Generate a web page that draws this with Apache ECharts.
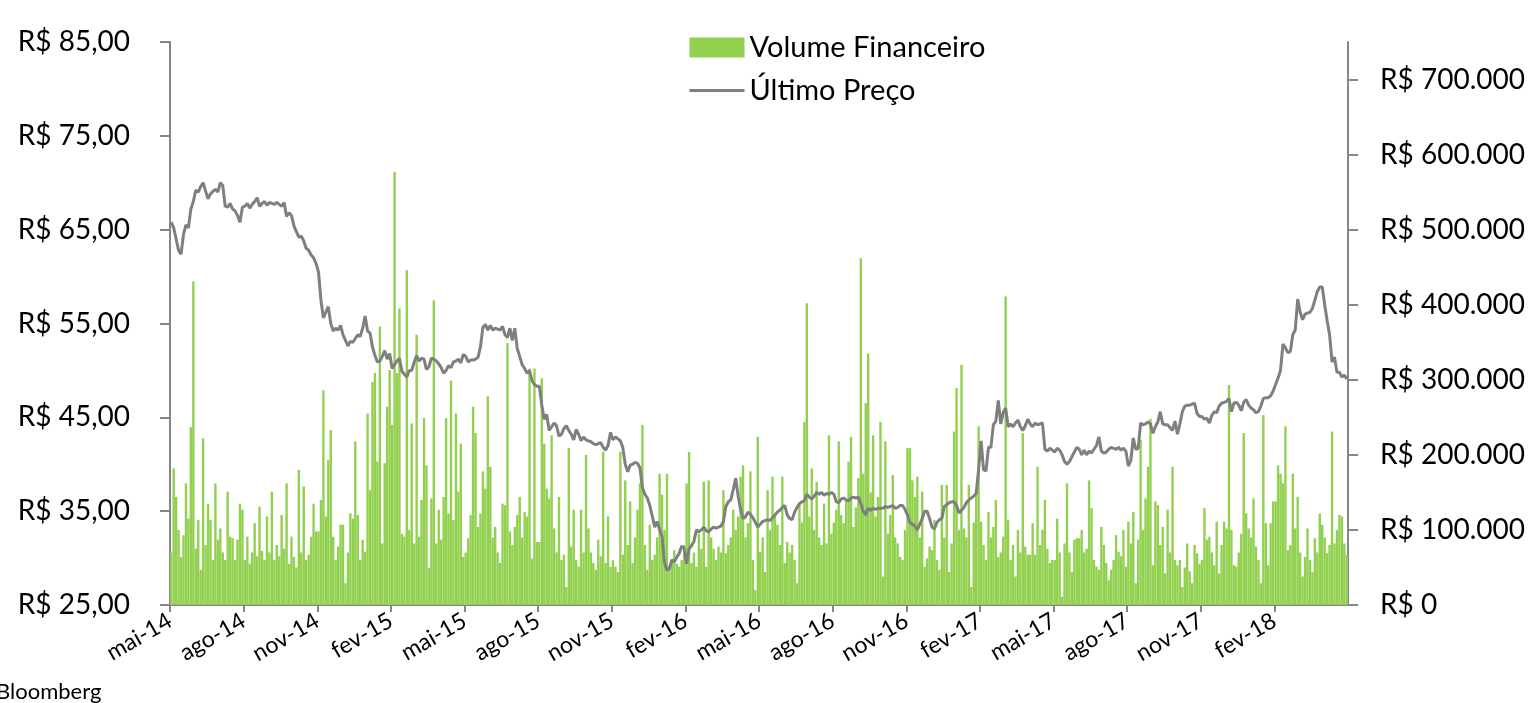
<!DOCTYPE html>
<html>
<head>
<meta charset="utf-8">
<script src="https://cdn.jsdelivr.net/npm/echarts@6/dist/echarts.min.js"></script>
<style>
  html, body { margin: 0; padding: 0; background: #fff; }
  #chart { width: 1528px; height: 703px; }
</style>
</head>
<body>
<div id="chart"></div>
<script>
// eixo x: meses a partir de mai-14, rótulos a cada 3 meses
var tickLabels = ['mai-14', 'ago-14', 'nov-14', 'fev-15', 'mai-15', 'ago-15', 'nov-15', 'fev-16',
  'mai-16', 'ago-16', 'nov-16', 'fev-17', 'mai-17', 'ago-17', 'nov-17', 'fev-18']
var pointsPerMonth = 10

// Volume Financeiro (em milhares de R$), 10 leituras por mês
var volume = [
  70, 182, 144, 100, 64, 93, 162, 115, 237, 431,
  75, 113, 47, 222, 80, 135, 113, 60, 162, 87,
  102, 70, 60, 151, 91, 89, 60, 87, 135, 127,
  60, 91, 55, 70, 109, 65, 131, 72, 60, 118,
  70, 151, 60, 80, 65, 120, 75, 162, 55, 91,
  64, 50, 180, 70, 158, 60, 67, 91, 135, 98,
  98, 140, 286, 118, 193, 233, 91, 60, 78, 107,
  107, 29, 70, 122, 115, 218, 120, 60, 87, 71,
  255, 153, 297, 309, 191, 371, 82, 189, 264, 313,
  240, 577, 309, 395, 95, 91, 446, 100, 242, 82,
  360, 91, 140, 249, 186, 49, 142, 406, 82, 127,
  87, 144, 249, 122, 299, 113, 255, 151, 215, 64,
  70, 89, 120, 264, 229, 104, 122, 178, 155, 278,
  184, 90, 104, 70, 56, 135, 133, 349, 98, 80,
  104, 120, 144, 90, 124, 118, 315, 62, 315, 84,
  84, 302, 215, 155, 142, 226, 102, 70, 144, 60,
  67, 24, 209, 78, 127, 60, 51, 127, 70, 200,
  102, 70, 56, 47, 87, 65, 204, 56, 118, 51,
  60, 51, 44, 204, 67, 166, 80, 138, 56, 90,
  127, 162, 240, 80, 47, 107, 60, 67, 90, 175,
  147, 100, 175, 51, 60, 73, 55, 51, 60, 80,
  162, 204, 56, 70, 51, 95, 75, 164, 51, 166,
  90, 75, 60, 78, 70, 153, 69, 80, 90, 127,
  100, 118, 171, 186, 90, 109, 178, 60, 20, 224,
  71, 90, 44, 153, 100, 171, 122, 107, 80, 171,
  56, 84, 70, 80, 60, 29, 135, 110, 244, 402,
  118, 182, 100, 164, 90, 80, 135, 82, 226, 95,
  110, 127, 218, 120, 109, 140, 191, 224, 104, 130,
  169, 462, 175, 269, 335, 150, 226, 118, 144, 244,
  38, 218, 95, 120, 173, 90, 82, 64, 60, 100,
  209, 209, 166, 144, 171, 90, 151, 51, 62, 78,
  73, 113, 60, 47, 160, 90, 160, 44, 82, 231,
  289, 100, 320, 102, 90, 160, 24, 110, 149, 238,
  111, 80, 60, 124, 90, 104, 140, 64, 70, 91,
  411, 113, 60, 80, 38, 100, 70, 229, 78, 67,
  67, 109, 67, 184, 80, 100, 140, 75, 56, 60,
  60, 115, 70, 11, 82, 162, 70, 44, 87, 89,
  89, 100, 70, 75, 166, 129, 60, 51, 47, 104,
  80, 56, 33, 47, 60, 93, 71, 65, 100, 51,
  111, 82, 124, 29, 87, 220, 100, 142, 184, 248,
  53, 138, 133, 80, 104, 42, 127, 70, 184, 60,
  53, 60, 24, 50, 82, 45, 29, 80, 69, 55,
  60, 129, 87, 91, 70, 53, 111, 42, 80, 111,
  102, 293, 100, 53, 51, 70, 95, 229, 122, 102,
  90, 142, 78, 60, 29, 253, 109, 53, 109, 138,
  138, 186, 175, 162, 238, 73, 80, 175, 102, 144,
  70, 38, 64, 102, 60, 44, 89, 70, 122, 107,
  90, 69, 80, 231, 82, 100, 120, 118, 82, 67
]

// Último Preço (R$), mesmas posições
var price = [
  65.8, 65.2, 64.0, 62.8, 62.4, 64.5, 65.5, 65.2, 67.2, 68.0,
  69.2, 69.0, 69.6, 70.0, 69.1, 68.3, 68.8, 69.1, 69.3, 69.0,
  70.0, 69.7, 67.5, 67.4, 67.8, 67.2, 67.0, 66.5, 65.8, 67.4,
  67.5, 67.8, 67.3, 67.7, 68.0, 68.4, 67.5, 67.8, 68.0, 67.6,
  67.9, 67.8, 67.7, 67.9, 67.7, 67.5, 67.9, 66.4, 66.8, 66.5,
  65.4, 64.8, 64.2, 64.3, 63.8, 63.0, 62.8, 62.3, 62.0, 61.4,
  60.5, 57.5, 55.6, 56.2, 56.8, 55.0, 54.2, 54.5, 54.3, 54.8,
  53.8, 53.2, 52.6, 53.1, 53.0, 53.4, 53.8, 53.6, 54.5, 55.8,
  54.2, 54.0, 52.5, 51.6, 50.9, 51.0, 51.5, 52.1, 51.2, 51.8,
  50.2, 50.6, 51.0, 51.3, 49.9, 49.6, 49.3, 50.0, 50.0, 50.9,
  51.6, 51.0, 51.3, 51.2, 50.1, 50.4, 51.3, 51.2, 51.0, 50.7,
  50.3, 49.7, 50.0, 50.5, 50.3, 50.9, 51.0, 51.2, 50.8, 51.7,
  51.5, 50.9, 51.1, 51.1, 51.2, 51.4, 52.5, 54.6, 54.9, 54.3,
  54.8, 54.3, 54.5, 54.4, 54.3, 54.7, 53.8, 53.5, 54.5, 53.2,
  54.5, 52.3, 51.5, 50.6, 50.2, 49.7, 50.0, 48.9, 48.5, 48.3,
  48.3, 46.3, 44.8, 45.3, 43.6, 44.0, 44.4, 44.1, 43.0, 43.2,
  43.8, 44.1, 43.6, 43.2, 42.6, 43.7, 43.2, 42.5, 42.9, 42.6,
  42.5, 42.4, 42.2, 42.1, 42.2, 42.3, 41.8, 41.5, 42.0, 43.4,
  42.6, 42.9, 42.7, 42.5, 41.8, 40.0, 39.2, 39.9, 40.0, 40.2,
  40.1, 39.6, 37.5, 36.8, 36.4, 35.6, 34.5, 33.3, 33.9, 33.0,
  32.3, 29.5, 28.7, 28.9, 29.8, 29.6, 30.1, 30.5, 31.3, 31.0,
  29.4, 31.0, 31.3, 31.8, 33.0, 32.8, 33.0, 33.3, 32.9, 32.8,
  33.1, 33.3, 33.2, 33.3, 33.4, 33.9, 35.5, 36.0, 36.2, 37.3,
  38.5, 36.6, 35.2, 34.2, 34.4, 34.9, 34.7, 34.3, 33.8, 33.3,
  33.6, 33.9, 34.0, 34.1, 34.0, 34.3, 34.6, 34.9, 35.1, 35.4,
  35.6, 34.6, 34.2, 34.1, 34.9, 35.4, 35.8, 36.0, 36.1, 36.8,
  36.5, 36.3, 36.6, 37.0, 36.8, 37.0, 36.7, 36.9, 36.8, 37.0,
  36.8, 36.0, 35.9, 36.3, 36.4, 36.2, 36.1, 36.4, 36.5, 36.4,
  36.5, 35.8, 35.0, 34.6, 35.3, 35.1, 35.3, 35.2, 35.3, 35.3,
  35.3, 35.5, 35.4, 35.5, 35.6, 35.3, 35.4, 35.6, 35.6, 35.2,
  34.6, 33.8, 33.6, 33.4, 33.0, 33.6, 34.2, 35.0, 35.0, 34.2,
  33.3, 33.1, 33.8, 34.1, 34.2, 35.5, 35.7, 35.9, 36.0, 36.0,
  35.6, 34.8, 35.1, 35.4, 35.9, 36.2, 36.4, 36.6, 36.9, 39.5,
  42.5, 39.4, 39.3, 41.8, 41.8, 44.2, 44.6, 46.8, 44.3, 45.5,
  46.0, 44.0, 44.3, 44.0, 44.4, 44.7, 44.0, 43.6, 44.1, 44.8,
  44.3, 44.0, 44.4, 44.2, 44.3, 44.4, 41.6, 41.4, 41.7, 41.5,
  41.3, 41.7, 41.5, 41.0, 40.3, 40.0, 40.3, 40.8, 41.3, 41.8,
  41.6, 41.0, 41.5, 41.0, 41.4, 41.2, 41.6, 42.0, 42.9, 41.4,
  41.2, 41.3, 41.6, 41.8, 41.7, 41.6, 41.8, 41.5, 41.7, 41.4,
  39.8, 40.4, 42.8, 41.6, 41.7, 44.4, 44.2, 44.3, 44.5, 44.3,
  43.3, 44.0, 44.5, 45.6, 44.3, 44.2, 44.2, 43.9, 43.6, 44.6,
  43.2, 44.3, 45.6, 46.2, 46.3, 46.3, 46.4, 46.5, 45.4, 45.1,
  45.1, 44.8, 44.9, 44.4, 45.2, 45.6, 45.5, 46.2, 46.5, 46.6,
  46.7, 47.0, 45.6, 46.5, 46.6, 46.3, 45.7, 46.6, 46.9, 46.3,
  46.0, 45.8, 45.5, 45.6, 46.2, 47.0, 47.1, 47.1, 47.3, 47.8,
  48.5, 49.2, 50.0, 52.8, 52.4, 51.9, 52.0, 53.8, 54.3, 57.6,
  56.2, 55.4, 56.0, 56.1, 56.2, 56.6, 57.5, 58.4, 58.9, 58.9,
  57.0, 55.3, 53.8, 50.9, 51.4, 49.8, 49.8, 49.3, 49.5, 49.1
]

var fontName = 'Lato'
var axisGray = '#868686'
var lineGray = '#7f7f7f'

var chart = echarts.init(document.getElementById('chart'))

var volumeData = volume.map(function (v, i) {
  return [(i + 0.5) / pointsPerMonth, v]
})
var priceData = price.map(function (p, i) {
  return [(i + 0.5) / pointsPerMonth, p]
})

var option = {
  animation: false,
  textStyle: { fontFamily: fontName, color: '#000' },
  grid: { left: 170, right: 180, top: 42, bottom: 98 },
  legend: {
    orient: 'vertical',
    left: 683,
    top: 28,
    itemWidth: 55,
    itemHeight: 20,
    itemGap: 14,
    textStyle: { fontFamily: fontName, fontSize: 29, color: '#000' },
    data: [
      { name: 'Volume Financeiro', icon: 'rect' },
      { name: 'Último Preço', itemStyle: { opacity: 0 }, lineStyle: { width: 3, color: lineGray } }
    ]
  },
  xAxis: {
    type: 'value',
    min: 0,
    max: 48,
    interval: 3,
    splitLine: { show: false },
    axisLine: { lineStyle: { color: axisGray, width: 2 } },
    axisTick: { length: 7, lineStyle: { color: axisGray, width: 2 } },
    axisLabel: {
      rotate: 30,
      margin: 14,
      fontSize: 23,
      color: '#000',
      fontFamily: fontName,
      showMaxLabel: false,
      formatter: function (v) {
        return tickLabels[v / 3] || ''
      }
    }
  },
  yAxis: [
    {
      type: 'value',
      min: 25,
      max: 85,
      interval: 10,
      splitLine: { show: false },
      axisLine: { show: true, lineStyle: { color: axisGray, width: 2 } },
      axisTick: { show: true, length: 10, lineStyle: { color: axisGray, width: 2 } },
      axisLabel: {
        margin: 40,
        fontSize: 28,
        color: '#000',
        fontFamily: fontName,
        formatter: function (v) {
          return 'R$ ' + v + ',00'
        }
      }
    },
    {
      type: 'value',
      min: 0,
      max: 750,
      interval: 100,
      position: 'right',
      splitLine: { show: false },
      axisLine: { show: true, lineStyle: { color: axisGray, width: 2 } },
      axisTick: { show: true, length: 10, lineStyle: { color: axisGray, width: 2 } },
      axisLabel: {
        margin: 32,
        fontSize: 28,
        color: '#000',
        fontFamily: fontName,
        showMaxLabel: false,
        formatter: function (v) {
          return v === 0 ? 'R$ 0' : 'R$ ' + v + '.000'
        }
      }
    }
  ],
  series: [
    {
      name: 'Volume Financeiro',
      type: 'bar',
      yAxisIndex: 1,
      barWidth: 2.4,
      itemStyle: { color: '#92D050' },
      data: volumeData,
      z: 2
    },
    {
      name: 'Último Preço',
      type: 'line',
      yAxisIndex: 0,
      symbol: 'none',
      lineStyle: { color: lineGray, width: 3 },
      itemStyle: { color: lineGray },
      data: priceData,
      z: 3
    }
  ],
  graphic: [
    {
      type: 'text',
      left: -4,
      top: 681,
      style: { text: 'Bloomberg', fontFamily: fontName, fontSize: 22, fill: '#000' }
    }
  ]
}

chart.setOption(option)
</script>
</body>
</html>
